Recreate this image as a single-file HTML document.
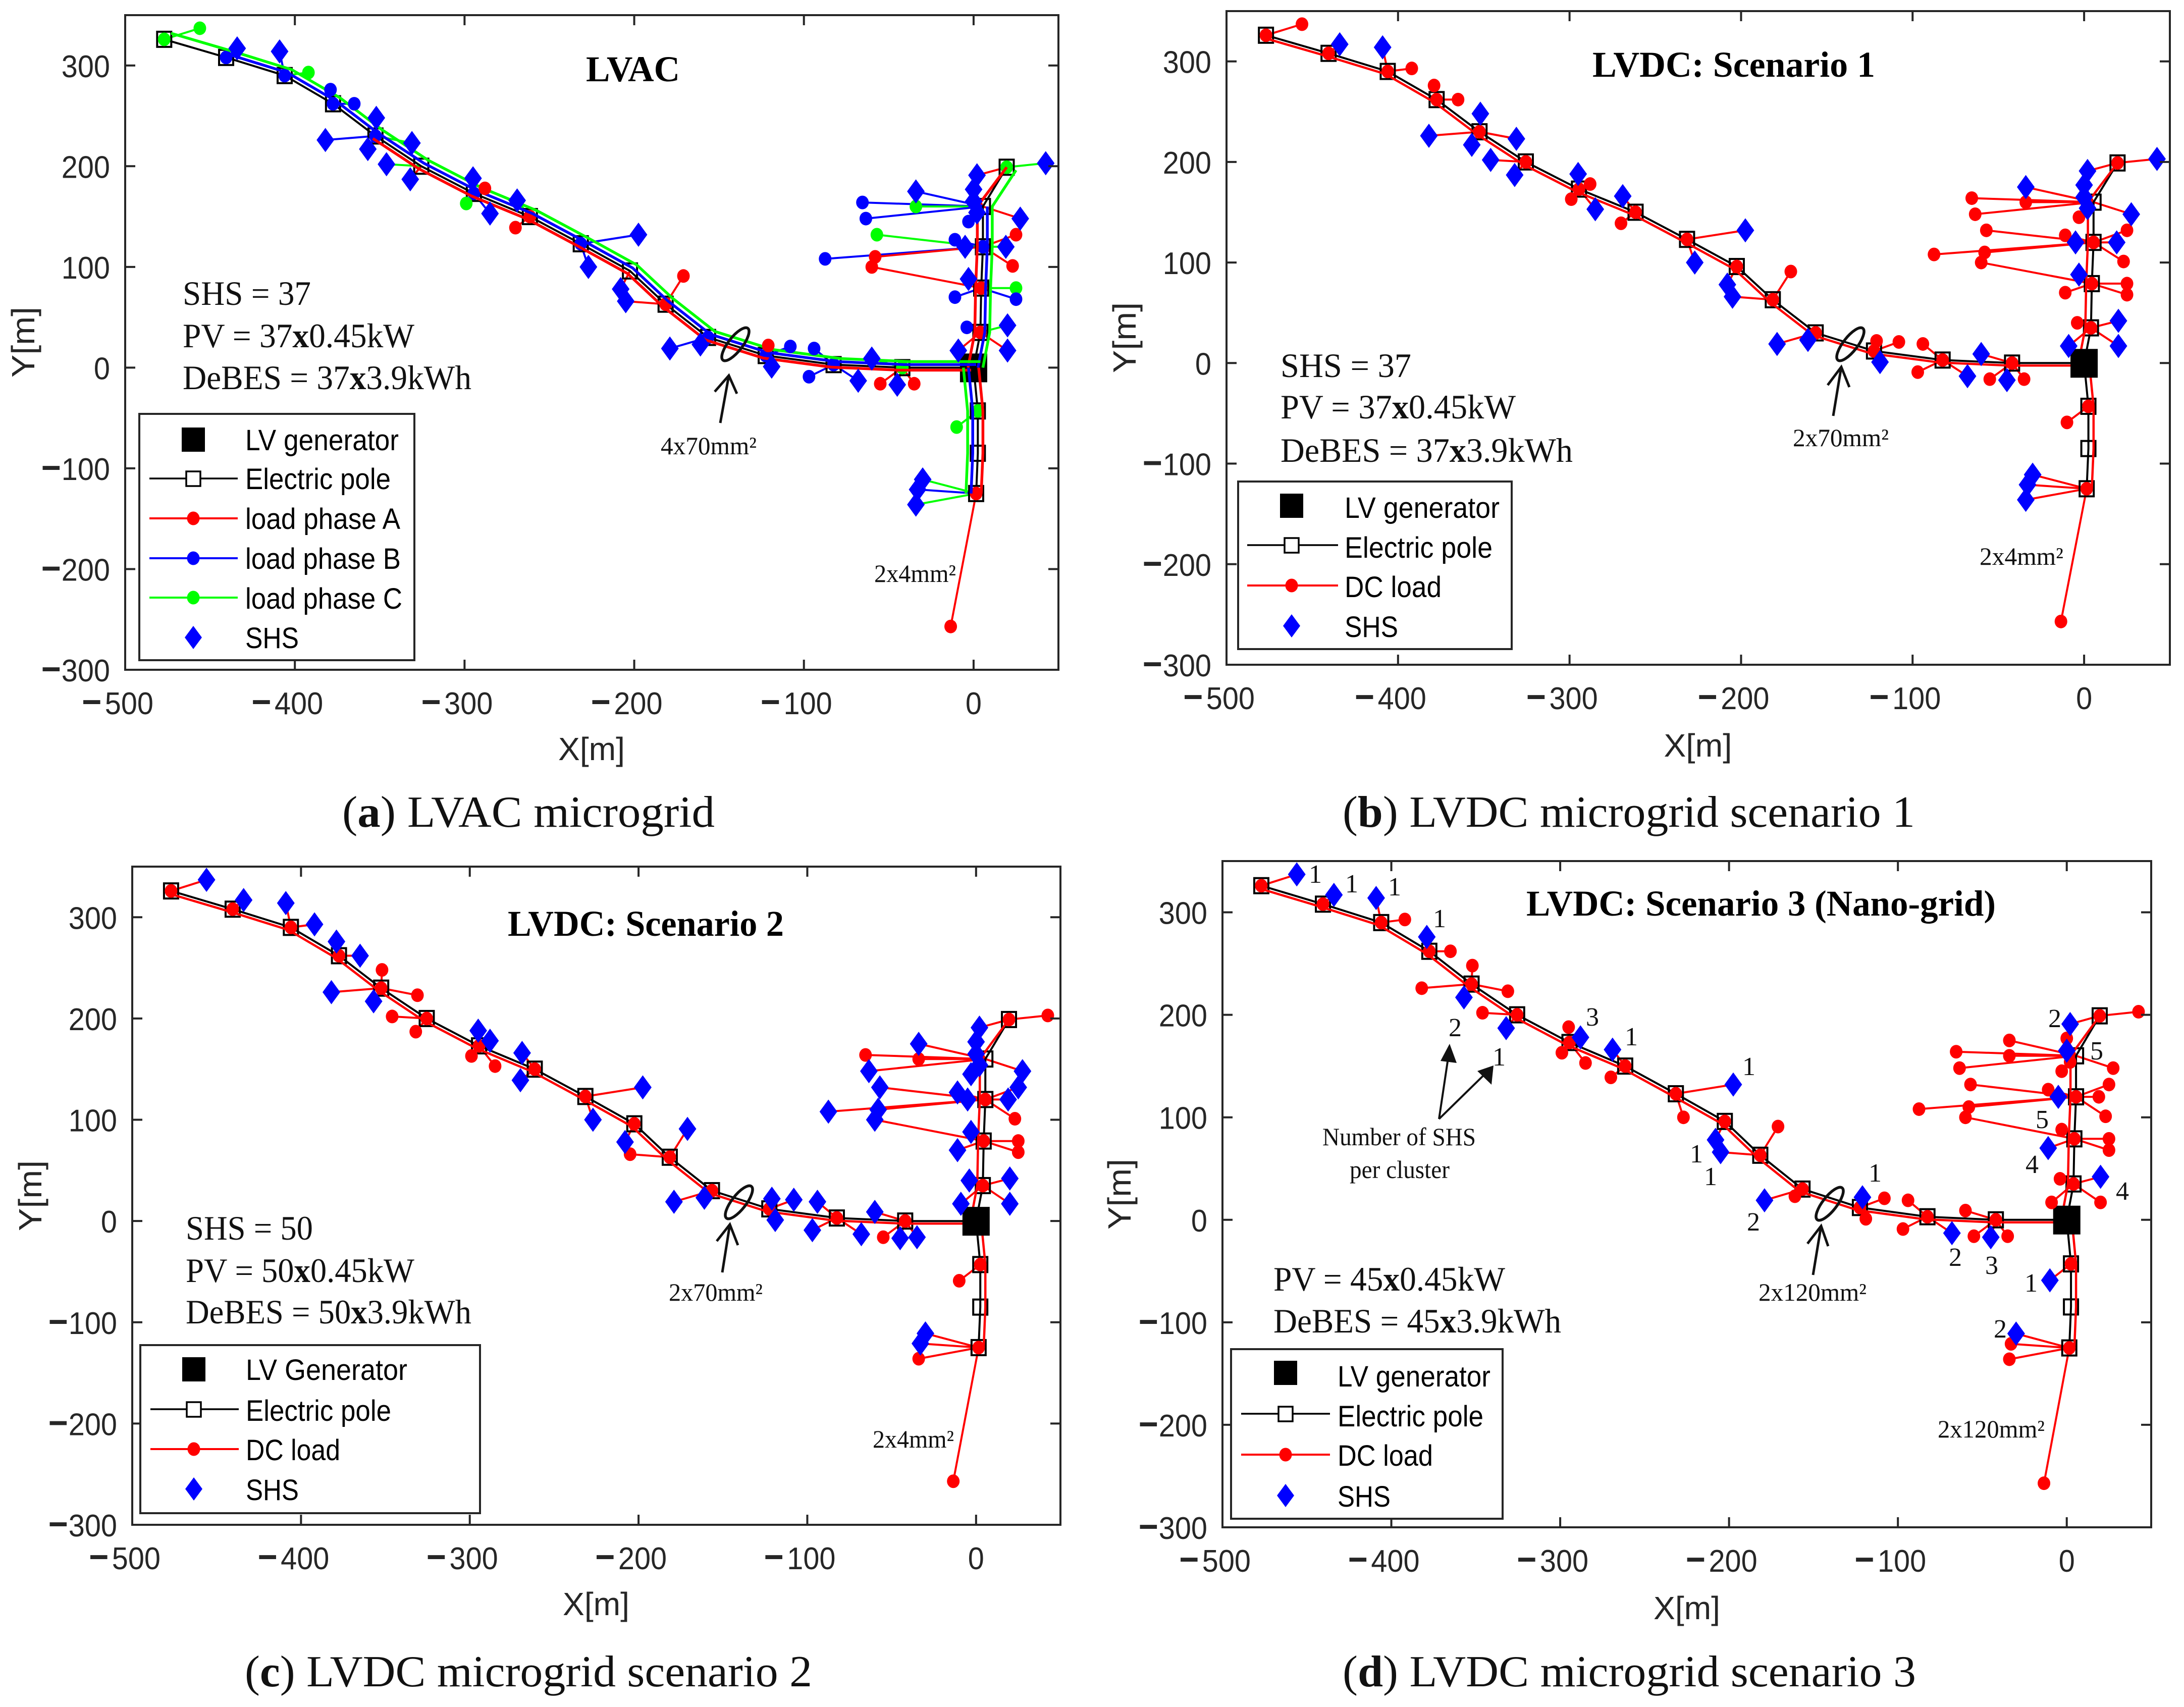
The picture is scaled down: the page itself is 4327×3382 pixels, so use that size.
<!DOCTYPE html>
<html lang="en">
<head>
<meta charset="utf-8">
<title>Microgrid layouts</title>
<style>
html,body{margin:0;padding:0;background:#fff;}
svg{display:block;}
text{white-space:pre;}
.sans{font-family:"Liberation Sans",Arial,sans-serif;}
.tick{font-family:"Liberation Sans",Arial,sans-serif;font-size:62px;fill:#262626;}
.axt{font-family:"Liberation Sans",Arial,sans-serif;font-size:64px;fill:#262626;text-anchor:middle;}
.leg{font-family:"Liberation Sans",Arial,sans-serif;font-size:58px;fill:#000;}
.ser{font-family:"Liberation Serif",serif;font-size:68px;fill:#111;}
.ttl{font-family:"Liberation Serif",serif;font-size:72px;font-weight:bold;fill:#000;}
.cap{font-family:"Liberation Serif",serif;font-size:88px;fill:#111;}
.ann{font-family:"Liberation Serif",serif;font-size:50px;fill:#111;}
.num{font-family:"Liberation Serif",serif;font-size:52px;fill:#111;text-anchor:middle;}
.legbox{fill:#fff;stroke:#262626;stroke-width:4;}
</style>
</head>
<body>
<svg id="figure" xmlns="http://www.w3.org/2000/svg" width="4327" height="3382" viewBox="0 0 4327 3382">
<rect width="4327" height="3382" fill="#fff"/>
<g id="plots"></g>

<!-- Panel A -->
<g>
<text class="ttl" x="1161" y="161" textLength="186" lengthAdjust="spacingAndGlyphs">LVAC</text>
<text class="ser" x="362" y="604" textLength="254" lengthAdjust="spacingAndGlyphs">SHS = 37</text>
<text class="ser" x="362" y="688" textLength="459" lengthAdjust="spacingAndGlyphs">PV = 37<tspan font-weight="bold">x</tspan>0.45kW</text>
<text class="ser" x="362" y="771" textLength="572" lengthAdjust="spacingAndGlyphs">DeBES = 37<tspan font-weight="bold">x</tspan>3.9kWh</text>
<ellipse cx="1457" cy="682" rx="14" ry="40" transform="rotate(38 1457 682)" fill="none" stroke="#111" stroke-width="5.5"/>
<path d="M1427 838L1444 744M1416 776L1444 744L1460 780" fill="none" stroke="#111" stroke-width="5"/>
<text class="ann" x="1309" y="900" textLength="190" lengthAdjust="spacingAndGlyphs">4x70mm²</text>
<text class="ann" x="1732" y="1153" textLength="162" lengthAdjust="spacingAndGlyphs">2x4mm²</text>
<g>
<rect class="legbox" x="276" y="820" width="545" height="488"/>
<rect x="360" y="847" width="46" height="48" fill="#000"/>
<text class="leg" x="486" y="892" textLength="304" lengthAdjust="spacingAndGlyphs">LV generator</text>
<path d="M296 948H471" stroke="#000" stroke-width="3.5"/>
<rect x="369" y="934" width="28" height="29" fill="#fff" stroke="#000" stroke-width="3.5"/>
<text class="leg" x="486" y="969" textLength="288" lengthAdjust="spacingAndGlyphs">Electric pole</text>
<path d="M296 1027H471" stroke="#f00" stroke-width="4"/>
<ellipse cx="383" cy="1027" rx="12.5" ry="13.5" fill="#f00"/>
<text class="leg" x="486" y="1048" textLength="307" lengthAdjust="spacingAndGlyphs">load phase A</text>
<path d="M296 1106H471" stroke="#00f" stroke-width="4"/>
<ellipse cx="383" cy="1106" rx="12.5" ry="13.5" fill="#00f"/>
<text class="leg" x="486" y="1127" textLength="308" lengthAdjust="spacingAndGlyphs">load phase B</text>
<path d="M296 1184H471" stroke="#0f0" stroke-width="4"/>
<ellipse cx="383" cy="1184" rx="12.5" ry="13.5" fill="#0f0"/>
<text class="leg" x="486" y="1206" textLength="311" lengthAdjust="spacingAndGlyphs">load phase C</text>
<path d="M383 1240L400 1263L383 1286L366 1263Z" fill="#00f"/>
<text class="leg" x="486" y="1284" textLength="106" lengthAdjust="spacingAndGlyphs">SHS</text>
</g>
<text class="cap" x="678" y="1638" textLength="738" lengthAdjust="spacingAndGlyphs">(<tspan font-weight="bold">a</tspan>) LVAC microgrid</text>
</g>

<!-- Panel B -->
<g>
<text class="ttl" x="3155" y="152" textLength="560" lengthAdjust="spacingAndGlyphs">LVDC: Scenario 1</text>
<text class="ser" x="2537" y="747" textLength="259" lengthAdjust="spacingAndGlyphs">SHS = 37</text>
<text class="ser" x="2537" y="829" textLength="466" lengthAdjust="spacingAndGlyphs">PV = 37<tspan font-weight="bold">x</tspan>0.45kW</text>
<text class="ser" x="2537" y="915" textLength="579" lengthAdjust="spacingAndGlyphs">DeBES = 37<tspan font-weight="bold">x</tspan>3.9kWh</text>
<ellipse cx="3666" cy="682" rx="14" ry="40" transform="rotate(38 3666 682)" fill="none" stroke="#111" stroke-width="5.5"/>
<path d="M3632 824L3648 727M3621 763L3648 727L3664 767" fill="none" stroke="#111" stroke-width="5"/>
<text class="ann" x="3552" y="884" textLength="190" lengthAdjust="spacingAndGlyphs">2x70mm²</text>
<text class="ann" x="3922" y="1119" textLength="166" lengthAdjust="spacingAndGlyphs">2x4mm²</text>
<g>
<rect class="legbox" x="2453" y="954" width="542" height="332"/>
<rect x="2536" y="978" width="46" height="48" fill="#000"/>
<text class="leg" x="2664" y="1026" textLength="307" lengthAdjust="spacingAndGlyphs">LV generator</text>
<path d="M2471 1080H2651" stroke="#000" stroke-width="3.5"/>
<rect x="2545" y="1066" width="28" height="29" fill="#fff" stroke="#000" stroke-width="3.5"/>
<text class="leg" x="2664" y="1105" textLength="293" lengthAdjust="spacingAndGlyphs">Electric pole</text>
<path d="M2471 1160H2651" stroke="#f00" stroke-width="4"/>
<ellipse cx="2559" cy="1160" rx="12.5" ry="13.5" fill="#f00"/>
<text class="leg" x="2664" y="1183" textLength="192" lengthAdjust="spacingAndGlyphs">DC load</text>
<path d="M2559 1217L2576 1240L2559 1263L2542 1240Z" fill="#00f"/>
<text class="leg" x="2664" y="1262" textLength="106" lengthAdjust="spacingAndGlyphs">SHS</text>
</g>
<text class="cap" x="2660" y="1638" textLength="1134" lengthAdjust="spacingAndGlyphs">(<tspan font-weight="bold">b</tspan>) LVDC microgrid scenario 1</text>
</g>

<!-- Panel C -->
<g>
<text class="ttl" x="1006" y="1854" textLength="547" lengthAdjust="spacingAndGlyphs">LVDC: Scenario 2</text>
<text class="ser" x="368" y="2456" textLength="252" lengthAdjust="spacingAndGlyphs">SHS = 50</text>
<text class="ser" x="368" y="2540" textLength="453" lengthAdjust="spacingAndGlyphs">PV = 50<tspan font-weight="bold">x</tspan>0.45kW</text>
<text class="ser" x="368" y="2622" textLength="566" lengthAdjust="spacingAndGlyphs">DeBES = 50<tspan font-weight="bold">x</tspan>3.9kWh</text>
<ellipse cx="1464" cy="2382" rx="14" ry="40" transform="rotate(38 1464 2382)" fill="none" stroke="#111" stroke-width="5.5"/>
<path d="M1431 2521L1446 2426M1420 2459L1446 2426L1462 2467" fill="none" stroke="#111" stroke-width="5"/>
<text class="ann" x="1325" y="2577" textLength="186" lengthAdjust="spacingAndGlyphs">2x70mm²</text>
<text class="ann" x="1729" y="2868" textLength="161" lengthAdjust="spacingAndGlyphs">2x4mm²</text>
<g>
<rect class="legbox" x="278" y="2665" width="673" height="333"/>
<rect x="361" y="2689" width="46" height="48" fill="#000"/>
<text class="leg" x="487" y="2734" textLength="320" lengthAdjust="spacingAndGlyphs">LV Generator</text>
<path d="M298 2792H473" stroke="#000" stroke-width="3.5"/>
<rect x="370" y="2778" width="28" height="29" fill="#fff" stroke="#000" stroke-width="3.5"/>
<text class="leg" x="487" y="2815" textLength="288" lengthAdjust="spacingAndGlyphs">Electric pole</text>
<path d="M298 2871H473" stroke="#f00" stroke-width="4"/>
<ellipse cx="384" cy="2871" rx="12.5" ry="13.5" fill="#f00"/>
<text class="leg" x="487" y="2893" textLength="187" lengthAdjust="spacingAndGlyphs">DC load</text>
<path d="M384 2927L401 2950L384 2973L367 2950Z" fill="#00f"/>
<text class="leg" x="487" y="2972" textLength="105" lengthAdjust="spacingAndGlyphs">SHS</text>
</g>
<text class="cap" x="485" y="3341" textLength="1124" lengthAdjust="spacingAndGlyphs">(<tspan font-weight="bold">c</tspan>) LVDC microgrid scenario 2</text>
</g>

<!-- Panel D -->
<g>
<text class="ttl" x="3024" y="1814" textLength="930" lengthAdjust="spacingAndGlyphs">LVDC: Scenario 3 (Nano-grid)</text>
<text class="ser" x="2523" y="2557" textLength="459" lengthAdjust="spacingAndGlyphs">PV = 45<tspan font-weight="bold">x</tspan>0.45kW</text>
<text class="ser" x="2523" y="2640" textLength="570" lengthAdjust="spacingAndGlyphs">DeBES = 45<tspan font-weight="bold">x</tspan>3.9kWh</text>
<ellipse cx="3625" cy="2385" rx="14" ry="40" transform="rotate(38 3625 2385)" fill="none" stroke="#111" stroke-width="5.5"/>
<path d="M3592 2526L3608 2429M3581 2464L3608 2429L3622 2469" fill="none" stroke="#111" stroke-width="5"/>
<text class="ann" x="3484" y="2577" textLength="214" lengthAdjust="spacingAndGlyphs">2x120mm²</text>
<text class="ann" x="3839" y="2848" textLength="212" lengthAdjust="spacingAndGlyphs">2x120mm²</text>
<text class="ann" x="2620" y="2269" textLength="304" lengthAdjust="spacingAndGlyphs">Number of SHS</text>
<text class="ann" x="2674" y="2334" textLength="198" lengthAdjust="spacingAndGlyphs">per cluster</text>
<path d="M2851 2217L2870 2090M2851 2217L2945 2125" fill="none" stroke="#111" stroke-width="4"/>
<path d="M2872 2068L2886 2106L2854 2102Z" fill="#111"/>
<path d="M2959 2111L2955 2149L2927 2122Z" fill="#111"/>
<g>
<text class="num" x="2606" y="1749">1</text>
<text class="num" x="2678" y="1768">1</text>
<text class="num" x="2763" y="1774">1</text>
<text class="num" x="2852" y="1837">1</text>
<text class="num" x="2883" y="2053">2</text>
<text class="num" x="2970" y="2111">1</text>
<text class="num" x="3155" y="2032">3</text>
<text class="num" x="3232" y="2071">1</text>
<text class="num" x="3465" y="2130">1</text>
<text class="num" x="3361" y="2303">1</text>
<text class="num" x="3389" y="2348">1</text>
<text class="num" x="3474" y="2438">2</text>
<text class="num" x="3715" y="2341">1</text>
<text class="num" x="3874" y="2508">2</text>
<text class="num" x="3946" y="2524">3</text>
<text class="num" x="4024" y="2559">1</text>
<text class="num" x="3963" y="2650">2</text>
<text class="num" x="4071" y="2035">2</text>
<text class="num" x="4154" y="2099">5</text>
<text class="num" x="4046" y="2235">5</text>
<text class="num" x="4026" y="2324">4</text>
<text class="num" x="4205" y="2377">4</text>
</g>
<g>
<rect class="legbox" x="2439" y="2673" width="538" height="336"/>
<rect x="2524" y="2696" width="46" height="48" fill="#000"/>
<text class="leg" x="2650" y="2747" textLength="303" lengthAdjust="spacingAndGlyphs">LV generator</text>
<path d="M2459 2801H2635" stroke="#000" stroke-width="3.5"/>
<rect x="2533" y="2787" width="28" height="29" fill="#fff" stroke="#000" stroke-width="3.5"/>
<text class="leg" x="2650" y="2826" textLength="289" lengthAdjust="spacingAndGlyphs">Electric pole</text>
<path d="M2459 2882H2635" stroke="#f00" stroke-width="4"/>
<ellipse cx="2547" cy="2882" rx="12.5" ry="13.5" fill="#f00"/>
<text class="leg" x="2650" y="2904" textLength="189" lengthAdjust="spacingAndGlyphs">DC load</text>
<path d="M2547 2940L2564 2963L2547 2986L2530 2963Z" fill="#00f"/>
<text class="leg" x="2650" y="2985" textLength="105" lengthAdjust="spacingAndGlyphs">SHS</text>
</g>
<text class="cap" x="2660" y="3341" textLength="1136" lengthAdjust="spacingAndGlyphs">(<tspan font-weight="bold">d</tspan>) LVDC microgrid scenario 3</text>
</g>

<!-- Axis titles -->
<g>
<text class="axt" x="1172" y="1506" textLength="132" lengthAdjust="spacingAndGlyphs">X[m]</text>
<text class="axt" x="68" y="678" transform="rotate(-90 68 678)" textLength="140" lengthAdjust="spacingAndGlyphs">Y[m]</text>
<text class="axt" x="3364" y="1499" textLength="135" lengthAdjust="spacingAndGlyphs">X[m]</text>
<text class="axt" x="2250" y="669" transform="rotate(-90 2250 669)" textLength="140" lengthAdjust="spacingAndGlyphs">Y[m]</text>
<text class="axt" x="1181" y="3200" textLength="132" lengthAdjust="spacingAndGlyphs">X[m]</text>
<text class="axt" x="82" y="2369" transform="rotate(-90 82 2369)" textLength="140" lengthAdjust="spacingAndGlyphs">Y[m]</text>
<text class="axt" x="3342" y="3208" textLength="132" lengthAdjust="spacingAndGlyphs">X[m]</text>
<text class="axt" x="2240" y="2366" transform="rotate(-90 2240 2366)" textLength="140" lengthAdjust="spacingAndGlyphs">Y[m]</text>
</g>
</svg>

<script>
// ---- data ----
const xTickValues = [-500, -400, -300, -200, -100, 0];
const yTickValues = [-300, -200, -100, 0, 100, 200, 300];
const xTickLabels = ['\u2212500', '\u2212400', '\u2212300', '\u2212200', '\u2212100', '0'];
const yTickLabels = ['\u2212300', '\u2212200', '\u2212100', '0', '100', '200', '300'];

const poleX = [-477, -440.5, -406, -377.5, -352.5, -325.5, -294.5, -261.5, -231.5, -202.5, -181.5, -156.5, -122.5, -82.5, -42, 0, 4, 4.5, 5.5, 5.5, 19.5, 2.5, 2.5, 1.5];
const poleY = [326, 308, 290, 262, 230, 200, 173, 150, 123, 96, 63, 30, 12, 3, 0, 0, 35, 79, 120, 160, 199, -43, -85, -125];

const consumerX = [-456, -434, -409, -392, -379, -365, -352, -382, -357, -331, -346, -332, -295, -288, -299, -285, -269, -270, -197.5, -227, -208, -205, -171, -121, -179, -161, -108, -94, -97, -119, -60, -68, -55, -45, -35, -13.5, -10, -30, -33, -34, 42.5, 2, 0, -34, -65.5, -34, -63.5, 0, 2, 27.5, -3, -57, -11, 25, -5, 19, -87.5, -58, 23, -60, -3, 25, 25, -11, -4, 20, -9, 20];
const consumerY = [337, 317, 314, 293, 276, 262, 248, 226, 217, 223, 202, 187, 188, 178, 163, 153, 166, 139, 132, 100, 78, 66, 91, 22, 19, 23, 21, 19, -9, 1, 9, -13, -16, -17, -16, -257, -59, -111, -121, -136, 203, 191, 177, 175, 164, 160, 148, 165, 154, 148, 145, 132, 127, 132, 120, 120, 108, 110, 101, 100, 88, 79, 68, 70, 40, 42, 17, 17];
const consumerPole = [0, 1, 2, 2, 3, 3, 4, 4, 4, 4, 5, 5, 6, 6, 6, 6, 7, 7, 8, 8, 9, 10, 10, 12, 11, 11, 12, 13, 13, 12, 14, 13, 14, 14, 14, 23, 21, 23, 23, 23, 20, 20, 19, 19, 19, 19, 19, 19, 19, 19, 19, 18, 18, 18, 18, 18, 18, 18, 18, 17, 17, 17, 17, 17, 16, 16, 16, 16];

// lowercase = plain load on that phase; uppercase = SHS on that phase
const panelATypes = ['c','B','B','c','b','b','B','B','B','C','C','A','B','a','c','B','C','a','B','B','A','A','a','a','B','B','b','b','b','B','C','B','a','A','a','a','c','C','B','C','C','A','A','B','b','c','b','B','B','A','b','c','b','a','C','C','b','a','a','a','A','c','b','b','b','C','A','A'];
const panelBTypes = ['a','A','A','a','a','a','A','A','A','A','A','A','A','a','a','A','A','a','A','A','A','A','a','a','A','A','a','a','a','A','A','A','a','A','a','a','a','A','A','A','A','A','A','A','a','a','a','A','A','A','a','a','a','a','A','A','a','a','a','a','A','a','a','a','a','A','A','A'];
const panelCTypes = ['A','A','A','A','A','A','a','A','A','a','a','a','A','A','a','a','A','A','A','A','A','a','A','A','A','A','A','A','A','A','A','A','a','A','A','a','a','A','A','a','a','A','A','A','a','a','A','A','A','A','A','A','A','A','A','A','A','A','a','A','A','a','a','A','A','A','A','A'];
const panelDTypes = ['A','A','A','a','A','a','a','a','A','a','a','A','a','A','a','a','A','a','A','a','A','A','a','A','A','a','a','a','a','a','a','A','a','A','a','a','A','A','a','a','a','A','a','a','a','a','a','A','a','a','a','a','a','a','A','a','a','a','a','a','a','a','a','A','a','A','a','a'];

// phase of the load sitting on each pole ('' = none)
const panelAPoleLoads = ['c','b','b','b','b','','b','a','b','','a','b','b','b','c','','a','a','b','','c','c','','a'];
const dcPoleLoads = ['a','a','a','a','a','a','a','a','a','a','a','a','a','a','a','','a','a','a','','a','a','','a'];

// feeder routes (pole indices) and phase offsets in metres
const westRoute = [0, 1, 2, 3, 4, 5, 6, 7, 8, 9, 10, 11, 12, 13, 14, 15];
const northRoute = [15, 16, 17, 18, 19, 20];
const southRoute = [15, 21, 22, 23];
const phaseOrder = ['a', 'b', 'c'];
const westOffsetX = [-1.5, 1.5, 4];
const westOffsetY = [-2.5, 3, 6];
const northOffsetX = [-3.3, 2.6, 5.5];
const southOffsetX = [3, -3, -6];

// ---- layout ----
const phaseColor = {a: '#ff0000', b: '#0000ff', c: '#00ff00'};
const NS = 'http://www.w3.org/2000/svg';
const root = document.getElementById('plots');
const X_MIN = -500, X_MAX = 50, Y_MIN = -300, Y_MAX = 350;

const panels = [
  {id: 'a', l: 248, r: 2097, t: 30, b: 1327, types: panelATypes, poleLoads: panelAPoleLoads, phases: ['a','b','c'], westFrom: [4, 1, 0], northTo: [5, 4, 5], threePhase: true},
  {id: 'b', l: 2430, r: 4299, t: 22, b: 1317, types: panelBTypes, poleLoads: dcPoleLoads, phases: ['a'], westFrom: [0], northTo: [5], threePhase: false},
  {id: 'c', l: 262, r: 2101, t: 1717, b: 3021, types: panelCTypes, poleLoads: dcPoleLoads, phases: ['a'], westFrom: [0], northTo: [5], threePhase: false},
  {id: 'd', l: 2422, r: 4262, t: 1706, b: 3026, types: panelDTypes, poleLoads: dcPoleLoads, phases: ['a'], westFrom: [0], northTo: [5], threePhase: false}
];

function xScale(p, v) { return p.l + (v - X_MIN) / (X_MAX - X_MIN) * (p.r - p.l); }
function yScale(p, v) { return p.b - (v - Y_MIN) / (Y_MAX - Y_MIN) * (p.b - p.t); }

function make(tag, attrs, parent) {
  const el = document.createElementNS(NS, tag);
  for (const k in attrs) el.setAttribute(k, attrs[k]);
  parent.appendChild(el);
  return el;
}
function dPath(points) {
  return points.map((q, i) => (i ? 'L' : 'M') + q[0].toFixed(1) + ' ' + q[1].toFixed(1)).join('');
}

// tick text: narrower digits and a heavy, wide minus, as in the figure
function fillTickLabel(label, str, gap) {
  if (str.charAt(0) === '\u2212') {
    const minus = make('tspan', {'font-weight': 'bold', 'font-size': '72'}, label);
    minus.textContent = '\u2212';
    
    
    const digits = make('tspan', {dx: gap}, label);
    digits.textContent = str.slice(1);
    
    
  } else {
    label.textContent = str;
  }
}

function drawAxes(p, g) {
  const frame = make('rect', {x: p.l, y: p.t, width: p.r - p.l, height: p.b - p.t, fill: 'none', stroke: '#262626', 'stroke-width': 4}, g);
  
  
  xTickValues.forEach((v, i) => {
    const x = xScale(p, v);
    const mark = make('path', {d: 'M' + x + ' ' + p.b + 'V' + (p.b - 20) + 'M' + x + ' ' + p.t + 'V' + (p.t + 20), stroke: '#262626', 'stroke-width': 4, fill: 'none'}, g);
    
    
    const negative = v < 0;
    const lx = negative ? x + 56 : x;
    const label = make('text', {transform: 'translate(' + lx + ' ' + (p.b + 88) + ') scale(0.93 1)', class: 'tick', 'text-anchor': negative ? 'end' : 'middle'}, g);
    fillTickLabel(label, xTickLabels[i], 7);
    
    
  });
  yTickValues.forEach((v, i) => {
    const y = yScale(p, v);
    const mark = make('path', {d: 'M' + p.l + ' ' + y + 'H' + (p.l + 20) + 'M' + p.r + ' ' + y + 'H' + (p.r - 20), stroke: '#262626', 'stroke-width': 4, fill: 'none'}, g);
    
    
    const label = make('text', {transform: 'translate(' + (p.l - 30) + ' ' + (y + 23) + ') scale(0.93 1)', class: 'tick', 'text-anchor': 'end'}, g);
    fillTickLabel(label, yTickLabels[i], 1);
    
    
  });
}

function drawGenerator(p, g) {
  const gx = xScale(p, poleX[15]), gy = yScale(p, poleY[15]);
  const gen = make('rect', {x: gx - 27, y: gy - 28, width: 54, height: 57, fill: '#000'}, g);
  
  
}

function drawPoleSquares(p, g) {
  poleX.forEach((px, i) => {
    if (i === 15) return;
    const sq = make('rect', {x: xScale(p, px) - 14, y: yScale(p, poleY[i]) - 15, width: 28, height: 30, fill: 'none', stroke: '#000', 'stroke-width': 4}, g);
    
    
  });
}

function drawPoleLoads(p, g) {
  p.poleLoads.forEach((ph, i) => {
    if (!ph) return;
    const dot = make('ellipse', {cx: xScale(p, poleX[i]), cy: yScale(p, poleY[i]), rx: 12.5, ry: 13.5, fill: phaseColor[ph]}, g);
    
    
  });
}

function drawBlackFeeder(p, g) {
  [westRoute, northRoute, southRoute].forEach(route => {
    const pts = route.map(i => [xScale(p, poleX[i]), yScale(p, poleY[i])]);
    const line = make('path', {d: dPath(pts), fill: 'none', stroke: '#000', 'stroke-width': 4, 'stroke-linejoin': 'round'}, g);
    
    
  });
}

function drawPhaseFeeders(p, g) {
  const width = p.threePhase ? 5.5 : 4.5;
  p.phases.forEach((ph, k) => {
    const n = phaseOrder.indexOf(ph);
    const west = westRoute.slice(p.westFrom[k]).map(i => [xScale(p, poleX[i] + westOffsetX[n]), yScale(p, poleY[i] + westOffsetY[n])]);
    const north = northRoute.slice(0, p.northTo[k] + 1).map(i => {
      const endPole = i === 20 && ph !== 'c';
      return [xScale(p, poleX[i] + (endPole ? 0 : northOffsetX[n])), yScale(p, poleY[i] - (i === 20 && ph === 'c' ? 3 : 0))];
    });
    const south = southRoute.map(i => [xScale(p, poleX[i] + southOffsetX[n]), yScale(p, poleY[i])]);
    [west, north, south].forEach(pts => {
      const line = make('path', {d: dPath(pts), fill: 'none', stroke: phaseColor[ph], 'stroke-width': width, 'stroke-linejoin': 'round'}, g);
      
      
    });
  });
}

function drawPanel(p) {
  const g = make('g', {}, root);
  
  

  // branch lines from each pole to its consumer
  consumerX.forEach((cx, i) => {
    const t = p.types[i], ph = t.toLowerCase(), pole = consumerPole[i];
    const branch = make('path', {d: dPath([[xScale(p, poleX[pole]), yScale(p, poleY[pole])], [xScale(p, cx), yScale(p, consumerY[i])]]), fill: 'none', stroke: phaseColor[ph], 'stroke-width': 4}, g);
    
    
  });

  if (p.threePhase) drawGenerator(p, g);
  drawBlackFeeder(p, g);
  drawPoleSquares(p, g);
  if (p.threePhase) drawPoleLoads(p, g);
  drawPhaseFeeders(p, g);
  if (!p.threePhase) {
    drawGenerator(p, g);
    drawPoleLoads(p, g);
  }

  // consumers that are plain loads
  consumerX.forEach((cx, i) => {
    const t = p.types[i];
    if (t !== t.toLowerCase()) return;
    const dot = make('ellipse', {cx: xScale(p, cx), cy: yScale(p, consumerY[i]), rx: 12.5, ry: 13.5, fill: phaseColor[t]}, g);
    
    
  });
  // consumers with solar home systems
  consumerX.forEach((cx, i) => {
    const t = p.types[i];
    if (t === t.toLowerCase()) return;
    const x = xScale(p, cx), y = yScale(p, consumerY[i]);
    const shs = make('path', {d: 'M' + x + ' ' + (y - 24) + 'L' + (x + 17.5) + ' ' + y + 'L' + x + ' ' + (y + 24) + 'L' + (x - 17.5) + ' ' + y + 'Z', fill: '#0000ff'}, g);
    
    
  });

  drawAxes(p, g);
}

panels.forEach(drawPanel);
</script>
</body>
</html>
